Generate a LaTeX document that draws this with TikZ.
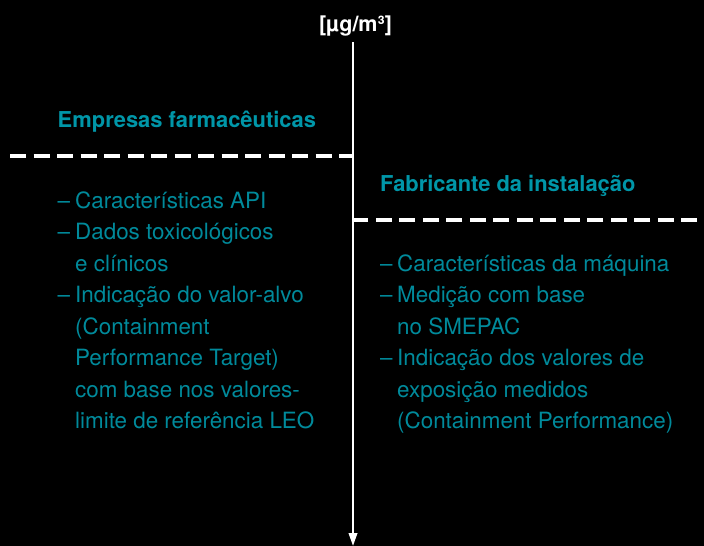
\documentclass[tikz,border=0pt]{standalone}
\usepackage{fontspec}
\setmainfont{TeX Gyre Heros}
\usetikzlibrary{arrows.meta}
\definecolor{teal1}{RGB}{0,150,168}
\definecolor{teal2}{RGB}{0,138,155}
\begin{document}
\begin{tikzpicture}[x=1pt,y=-1pt,
  hd/.style={anchor=base west,inner sep=0pt,text=teal1,font=\fontsize{21.9}{25}\selectfont\bfseries},
  bd/.style={anchor=base west,inner sep=0pt,text=teal2,font=\fontsize{22.4}{26}\selectfont},
  dashln/.style={draw=white,line width=4.8pt,dash pattern=on 16pt off 7.5pt}]
\fill[black] (0,0) rectangle (704,546);
\useasboundingbox (0,0) rectangle (704,546);
% unit label and axis
\node[anchor=base,inner sep=0pt,text=white,font=\fontsize{21.5}{24}\selectfont\bfseries] (unit) at (355.5,31) {[µg/m³]};
\coordinate (top) at (353,42);
\coordinate (bot) at (353,546);
\draw[white,line width=2.2pt,-{Triangle[width=8.5pt,length=13pt]}] (top) -- (bot);
% dashed separators
\coordinate (L1) at (10,156);
\coordinate (L2) at (353,156);
\coordinate (R1) at (697,220);
\coordinate (R2) at (353,220);
\draw[dashln] (L1) -- (L2);
\draw[dashln] (R1) -- (R2);
% left column
\node[hd] (lh) at (57.5,127) {Empresas farmacêuticas};
\node[bd] (ld1) at (57.5,208) {–};
\node[bd] (lt1) at (75,208) {Características API};
\node[bd] (ld2) at (57.5,239.5) {–};
\node[bd] (lt2) at (75,239.5) {Dados toxicológicos};
\node[bd] (lt3) at (75,271) {e clínicos};
\node[bd] (ld4) at (57.5,302.5) {–};
\node[bd] (lt4) at (75,302.5) {Indicação do valor-alvo};
\node[bd] (lt5) at (75,334) {(Containment};
\node[bd] (lt6) at (75,365.5) {Performance Target)};
\node[bd] (lt7) at (75,397) {com base nos valores-};
\node[bd] (lt8) at (75,428.5) {limite de referência LEO};
% right column
\node[hd] (rh) at (380,191.5) {Fabricante da instalação};
\node[bd] (rd1) at (380,271) {–};
\node[bd] (rt1) at (397,271) {Características da máquina};
\node[bd] (rd2) at (380,302.5) {–};
\node[bd] (rt2) at (397,302.5) {Medição com base};
\node[bd] (rt3) at (397,334) {no SMEPAC};
\node[bd] (rd4) at (380,365.5) {–};
\node[bd] (rt4) at (397,365.5) {Indicação dos valores de};
\node[bd] (rt5) at (397,397) {exposição medidos};
\node[bd] (rt6) at (397,428.5) {(Containment Performance)};
\end{tikzpicture}
\end{document}
